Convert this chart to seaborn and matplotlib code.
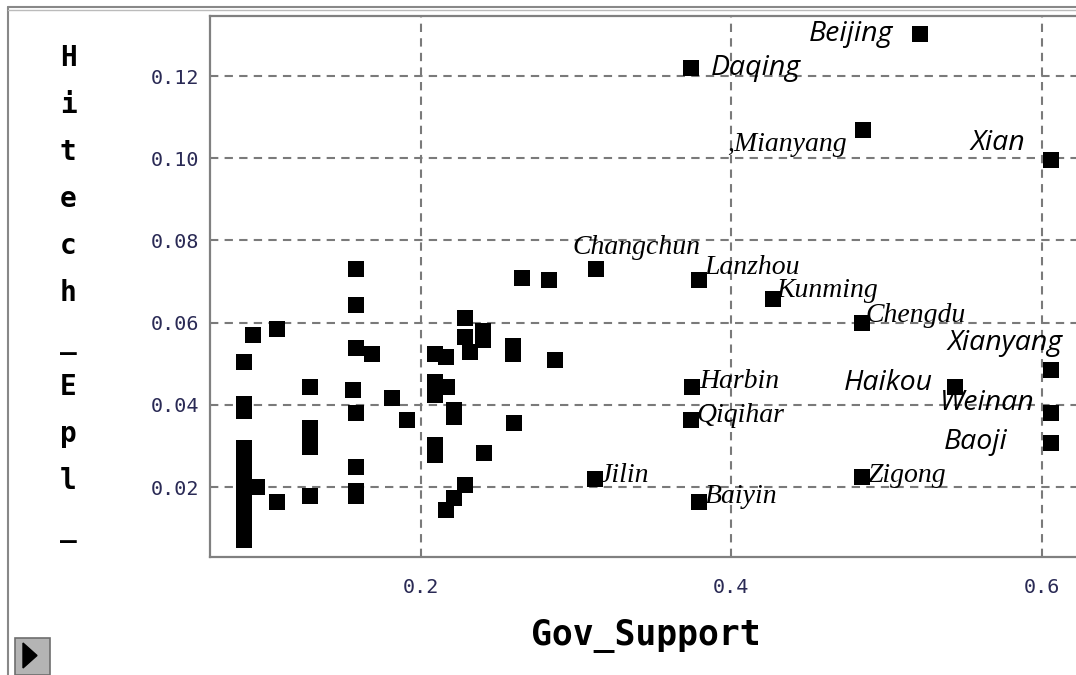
import numpy as np
import pandas as pd
import matplotlib.pyplot as plt
from matplotlib.patches import Rectangle, Polygon
from matplotlib.lines import Line2D
import seaborn as sns

# unlabelled cities (Gov_Support, Hitech_Epl_)
GOV_SUPPORT = [
    0.0866, 0.0866, 0.0866, 0.0866, 0.0866, 0.0866, 0.0866, 0.0866, 0.0866,
    0.0866, 0.0866, 0.0866, 0.0920, 0.1074, 0.0946, 0.1074,
    0.1289, 0.1289, 0.1289, 0.1289, 0.1289,
    0.1585, 0.1585, 0.1585, 0.1567, 0.1585, 0.1585, 0.1585, 0.1585,
    0.1690, 0.1815, 0.1915, 0.2093, 0.2162, 0.2093, 0.2093, 0.2169,
    0.2093, 0.2093, 0.2286, 0.2286, 0.2319, 0.2404, 0.2404, 0.2597, 0.2597,
    0.2866, 0.2216, 0.2216, 0.2602, 0.2409, 0.2286, 0.2216, 0.2164,
    0.2651, 0.2829,
]
HITECH_EPL = [
    0.0295, 0.0266, 0.0237, 0.0207, 0.0178, 0.0149, 0.0120, 0.0091, 0.0071,
    0.0402, 0.0385, 0.0504, 0.0570, 0.0584, 0.0200, 0.0164,
    0.0444, 0.0344, 0.0322, 0.0297, 0.0178,
    0.0730, 0.0643, 0.0537, 0.0436, 0.0379, 0.0249, 0.0190, 0.0178,
    0.0524, 0.0417, 0.0363, 0.0524, 0.0517, 0.0455, 0.0424, 0.0444,
    0.0302, 0.0278, 0.0610, 0.0566, 0.0529, 0.0580, 0.0558, 0.0543, 0.0524,
    0.0509, 0.0387, 0.0370, 0.0356, 0.0283, 0.0205, 0.0173, 0.0144,
    0.0708, 0.0704,
]

# labelled cities
CITY = ["Beijing", "Daqing", "Mianyang", "Xian", "Changchun", "Lanzhou",
        "Kunming", "Chengdu", "Xianyang", "Haikou", "Harbin", "Weinan",
        "Qiqihar", "Baoji", "Jilin", "Zigong", "Baiyin"]
CITY_GOV = [0.5215, 0.3741, 0.4846, 0.6058, 0.3128, 0.3794, 0.4267, 0.4843,
            0.6058, 0.5440, 0.3745, 0.6058, 0.3739, 0.6058, 0.3123, 0.4843,
            0.3792]
CITY_EPL = [0.1301, 0.1220, 0.1069, 0.0996, 0.0730, 0.0704, 0.0657, 0.0598,
            0.0485, 0.0444, 0.0444, 0.0379, 0.0363, 0.0306, 0.0219, 0.0225,
            0.0164]
CITY_TEXT = ["Beijing", "Daqing", ",Mianyang", "Xian", "Changchun", "Lanzhou",
             "Kunming", "Chengdu", "Xianyang", "Haikou", "Harbin", "Weinan",
             "Qiqihar", "Baoji", "Jilin", "Zigong", "Baiyin"]

# label placement: pixel offset from the marker, alignment, font kind
LABEL_STYLE = {
    "Beijing": (-27, 0, "right", "sans"),
    "Daqing": (20, 0, "left", "sans"),
    "Mianyang": (-16, 15, "right", "serif"),
    "Xian": (-26, -17, "right", "sans"),
    "Changchun": (-23, -22, "left", "serif"),
    "Lanzhou": (5, -12, "left", "serif"),
    "Kunming": (4, -9, "left", "serif"),
    "Chengdu": (3, -8, "left", "serif"),
    "Xianyang": (12, -27, "right", "sans"),
    "Haikou": (-22, -4, "right", "sans"),
    "Harbin": (8, -5, "left", "serif"),
    "Weinan": (-16, -10, "right", "sans"),
    "Qiqihar": (6, -5, "left", "serif"),
    "Baoji": (-43, -1, "right", "sans"),
    "Jilin": (5, -4, "left", "serif"),
    "Zigong": (5, -1, "left", "serif"),
    "Baiyin": (6, -5, "left", "serif"),
}

df = pd.DataFrame({"Gov_Support": GOV_SUPPORT + CITY_GOV,
                   "Hitech_Epl_": HITECH_EPL + CITY_EPL})

sns.set_style("white")
W, H = 1076, 675
fig = plt.figure(figsize=(W / 100, H / 100), dpi=100)
ax = fig.add_axes([210 / W, 118 / H, 866 / W, 541 / H])

sns.scatterplot(data=df, x="Gov_Support", y="Hitech_Epl_", marker="s",
                color="black", s=135, linewidth=0, ax=ax, zorder=3)

ax.set_xlim(0.0645, 0.6219)
ax.set_ylim(0.00297, 0.1346)
ax.set_xticks([0.2, 0.4, 0.6])
ax.set_xticklabels(["0.2", "0.4", "0.6"])
ax.set_yticks([0.02, 0.04, 0.06, 0.08, 0.10, 0.12])
ax.set_yticklabels([f"{v:.2f}" for v in ax.get_yticks()])
ax.set_xlabel("")
ax.set_ylabel("")

grey = "#7a7a7a"
ax.set_axisbelow(True)
ax.grid(True, color=grey, linestyle=(0, (4, 3)), linewidth=1.5)
for side in ["left", "top", "bottom"]:
    ax.spines[side].set_color("#808080")
    ax.spines[side].set_linewidth(1.6)
ax.spines["right"].set_visible(False)

ax.tick_params(axis="y", direction="out", length=7, width=1.2, color=grey,
               pad=1, labelcolor="#2a2a55")
ax.tick_params(axis="x", direction="out", length=6, width=1.2, color=grey,
               pad=9, labelcolor="#2a2a55")
for lab in ax.get_xticklabels() + ax.get_yticklabels():
    lab.set_fontfamily("DejaVu Sans Mono")
    lab.set_fontsize(14.5)

for name, txt, gx, gy in zip(CITY, CITY_TEXT, CITY_GOV, CITY_EPL):
    dx, dy, ha, kind = LABEL_STYLE[name]
    if kind == "serif":
        fam, size = "Liberation Serif", 20
    else:
        fam, size = "Open Sans", 20.5
    ax.annotate(txt, (gx, gy), xytext=(dx * 0.72, -dy * 0.72),
                textcoords="offset points", ha=ha, va="center",
                fontfamily=fam, fontstyle="italic", fontsize=size,
                color="black", zorder=4)

# axis titles in the chunky monospace look
fig.text(646 / W, 1 - 636 / H, "Gov_Support", ha="center", va="center",
         fontfamily="DejaVu Sans Mono", fontweight="bold", fontsize=25,
         color="black")
fig.text(68 / W, 1 - 44 / H, "\n".join("Hitech_Epl_"), ha="center", va="top",
         fontfamily="DejaVu Sans Mono", fontweight="bold", fontsize=20,
         linespacing=1.86, color="black")

# window frame and the little play button
fig.add_artist(Line2D([8 / W, 8 / W], [0, 1 - 7 / H], color="#888888", lw=1.5))
fig.add_artist(Line2D([8 / W, 1], [1 - 7 / H, 1 - 7 / H], color="#888888", lw=1.5))
fig.add_artist(Line2D([8 / W, 1], [1 - 10 / H, 1 - 10 / H], color="#bbbbbb", lw=1))
fig.add_artist(Rectangle((15 / W, 0), 35 / W, 37 / H, facecolor="#b4b4b4",
                         edgecolor="#6e6e6e", lw=1.2))
fig.add_artist(Polygon([[23 / W, 1 - 643 / H], [23 / W, 1 - 668 / H],
                        [37 / W, 1 - 655.5 / H]], closed=True, color="black"))

fig.savefig("out.png", dpi=100)
